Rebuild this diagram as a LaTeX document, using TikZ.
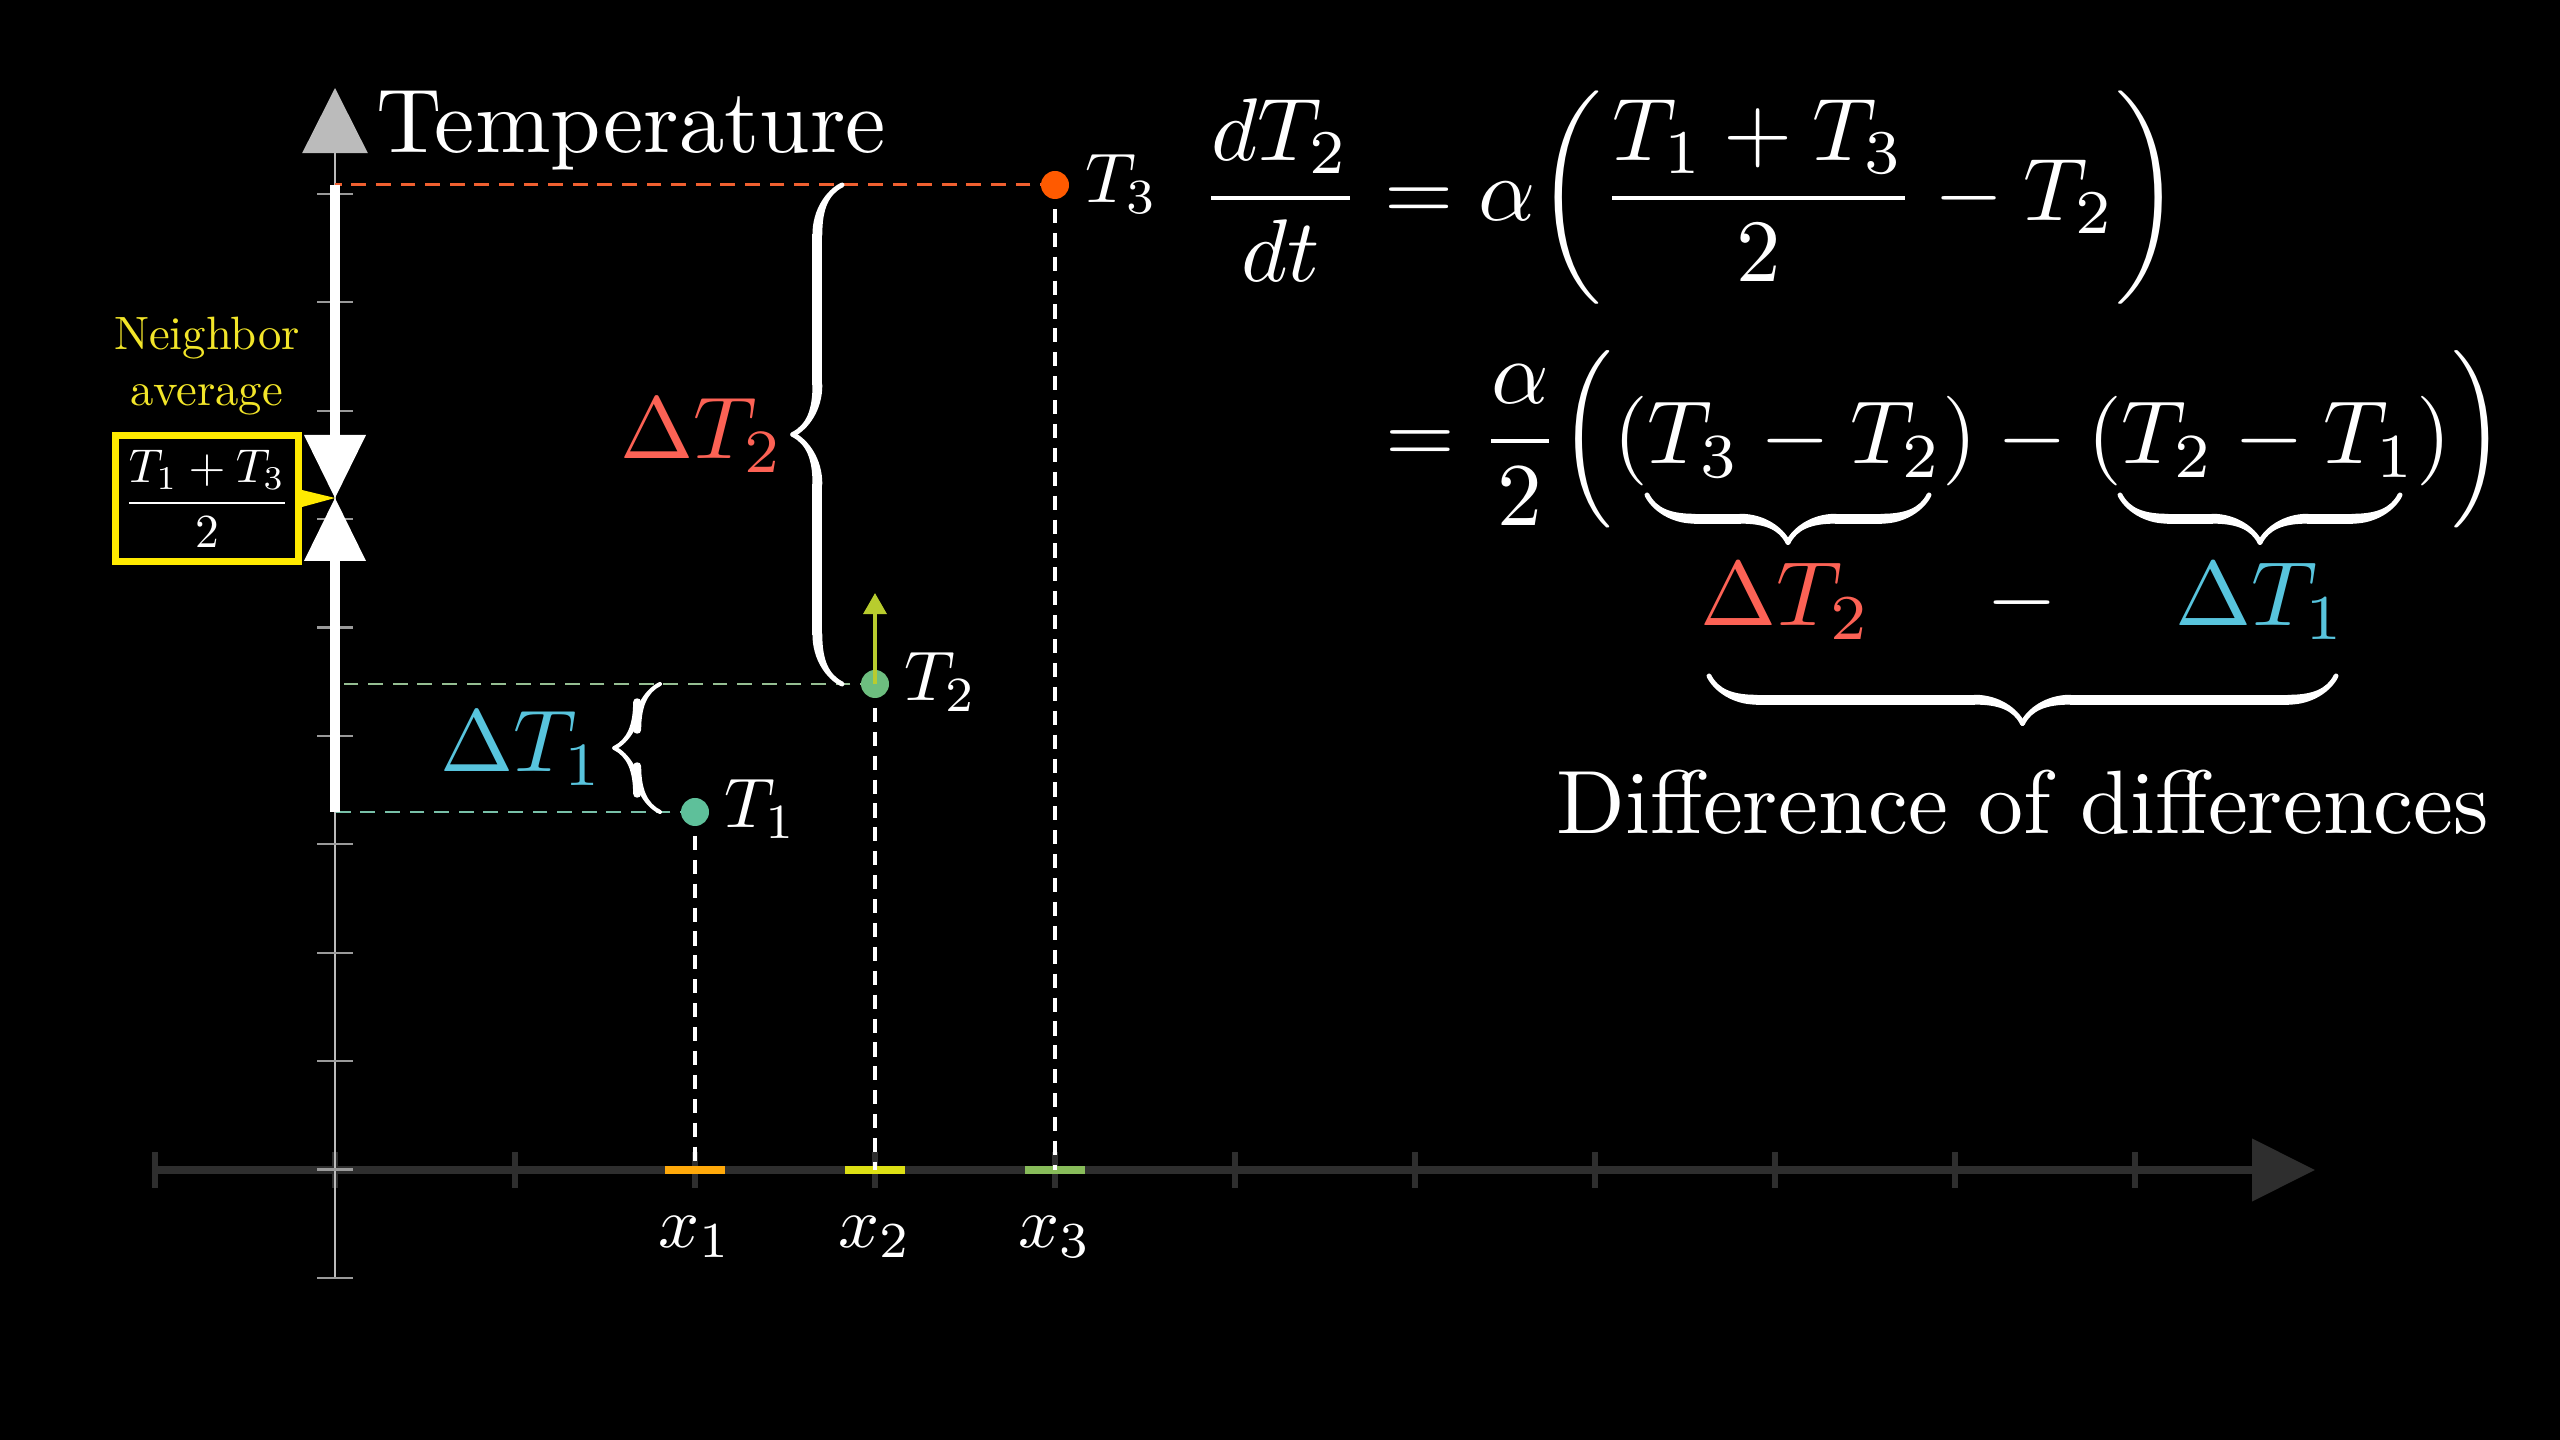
\documentclass[tikz,border=0pt]{standalone}
\usepackage{amsmath}
\usepackage{graphicx}
\usetikzlibrary{decorations.pathreplacing,arrows.meta,calligraphy}
\definecolor{axisgray}{HTML}{2E2E2E}
\definecolor{ygray}{HTML}{BBBBBB}
\definecolor{ytick}{HTML}{9A9A9A}
\definecolor{cthree}{HTML}{FF5A00}
\definecolor{cthreedash}{HTML}{F06030}
\definecolor{ctwo}{HTML}{6DBE7F}
\definecolor{ctwodash}{HTML}{95BE92}
\definecolor{cone}{HTML}{5EC09A}
\definecolor{conedash}{HTML}{78C0A8}
\definecolor{arrowc}{HTML}{B8CC2E}
\definecolor{dred}{HTML}{FC6255}
\definecolor{dblue}{HTML}{58C4DD}
\definecolor{ybox}{HTML}{FFEA00}
\definecolor{ytext}{HTML}{F2E529}
\definecolor{segone}{HTML}{FFA90A}
\definecolor{segtwo}{HTML}{DDE014}
\definecolor{segthree}{HTML}{88BC5A}
\newcommand{\tallopen}{\mathopen{\scalebox{1}[1.1]{$\Big($}}}
\newcommand{\tallclose}{\mathclose{\scalebox{1}[1.1]{$\Big)$}}}
\tikzset{
  xaxisline/.style={draw=axisgray, line width=2pt},
  xtickline/.style={draw=axisgray, line width=1.6pt},
  yaxisline/.style={draw=ygray, line width=0.7pt},
  ytickline/.style={draw=ytick, line width=0.6pt},
  seg/.style={line width=2pt},
  vdash/.style={draw=white, line width=0.95pt, dash pattern=on 4pt off 2.8pt},
  hdash/.style={line width=0.85pt, dash pattern=on 4.2pt off 2.8pt},
  tdot/.style={circle, minimum size=2.8mm, inner sep=0pt},
  wlab/.style={text=white, inner sep=0pt},
  bracestyle/.style={line width=2.8pt, pen colour={white}, decorate},
}
\begin{document}
\begin{tikzpicture}[x=0.1mm,y=-0.1mm]
\useasboundingbox (0,0) rectangle (2560,1440);
\fill[black] (0,0) rectangle (2560,1440);

% ---------- x axis
\coordinate (O) at (335,1170);
\coordinate (xl) at (155,1170);
\coordinate (xr) at (2315,1170);
\draw[xaxisline, -{Triangle[length=17.9pt,width=17.4pt]}] (xl) -- (xr);
\foreach \k in {-1,...,10} {
  \draw[xtickline] (335+180*\k,1152) -- (335+180*\k,1188);
}

% ---------- y axis
\coordinate (yb) at (335,1278);
\coordinate (yt) at (335,88);
\draw[yaxisline, -{Triangle[length=18.5pt,width=18.5pt]}, color=ygray] (yb) -- (yt);
\foreach \k in {-1,...,9} {
  \draw[ytickline] (317,1169.5-108.4*\k) -- (353,1169.5-108.4*\k);
}

% ---------- colored segments on the x axis
\draw[seg, segone] (665,1170) -- (725,1170);
\draw[seg, segtwo] (845,1170) -- (905,1170);
\draw[seg, segthree] (1025,1170) -- (1085,1170);

% ---------- points
\coordinate (p1) at (695,812);
\coordinate (p2) at (875,684);
\coordinate (p3) at (1055,185);

% dashed guides
\draw[hdash, cthreedash] (p3) -- (p3 -| O);
\draw[hdash, ctwodash] (p2) -- (p2 -| O);
\draw[hdash, conedash] (p1) -- (p1 -| O);
\draw[vdash] (p3) -- (p3 |- O);
\draw[vdash] (p2) -- (p2 |- O);
\draw[vdash] (p1) -- (p1 |- O);

% white bar and bow tie
\draw[white, line width=2.85pt] (p3 -| O) -- (335,436);
\draw[white, line width=2.85pt] (335,561) -- (p1 -| O);
\coordinate (avgpt) at (335,498);
\fill[white] (304,435) -- (366,435) -- (avgpt) -- cycle;
\fill[white] (304,561) -- (366,561) -- (avgpt) -- cycle;

% dots
\node[tdot, fill=cthree] (T3) at (p3) {};
\node[tdot, fill=ctwo] (T2) at (p2) {};
\node[tdot, fill=cone] (T1) at (p1) {};
\draw[arrowc, line width=1.15pt, -{Triangle[length=6pt,width=6.5pt]}] (p2) -- (875,593);

% point labels
\node[wlab, scale=2, anchor=base west] (lT3) at (1084,203) {$T_3$};
\node[wlab, scale=2, anchor=base west] (lT2) at (903,701) {$T_2$};
\node[wlab, scale=2, anchor=base west] (lT1) at (723,828) {$T_1$};

% x labels
\node[wlab, scale=2.05, anchor=base] (lx1) at (695,1247) {$x_1$};
\node[wlab, scale=2.05, anchor=base] (lx2) at (875,1247) {$x_2$};
\node[wlab, scale=2.05, anchor=base] (lx3) at (1055,1247) {$x_3$};

% axis title
\node[wlab, scale=2.58, anchor=base west] (title) at (375,153) {Temperature};

% braces on the plot
\draw[bracestyle, decoration={calligraphic brace, amplitude=14pt}] (842,684) -- (842,185);
\draw[bracestyle, line width=2.3pt, decoration={calligraphic brace, amplitude=13pt}] (660,812) -- (660,684);
\node[inner sep=0pt, scale=2.5, text=dred, anchor=base east] (dT2) at (786,459) {$\Delta T_2$};
\node[inner sep=0pt, scale=2.5, text=dblue, anchor=base east] (dT1) at (606,772) {$\Delta T_1$};

% neighbor average
\node[draw=ybox, line width=2pt, minimum width=18.3mm, minimum height=12.6mm, inner sep=0pt] (avgbox) at (207,498.5) {};
\node[wlab, scale=1.35] (avgfrac) at (avgbox.center) {$\displaystyle\frac{T_1+T_3}{2}$};
\fill[ybox] ([yshift=0.85mm]avgbox.east) -- (avgpt) -- ([yshift=-0.85mm]avgbox.east) -- cycle;
\node[inner sep=0pt, text=ytext, scale=1.33, align=center] (avglab) at (207,366) {Neighbor\\average};

% ---------- equations
\node[wlab, scale=2.53, anchor=west] (eqA) at (1199,198)
  {$\displaystyle \frac{dT_2}{dt} = \alpha{\left(\frac{T_1+T_3}{2} - T_2\right)}$};
\node[wlab, scale=2.55, anchor=west] (eqB) at (1384,439)
  {$\displaystyle = {\frac{\alpha}{2}}\tallopen(T_3 - T_2) - (T_2 - T_1)\tallclose$};

\draw[bracestyle, decoration={calligraphic brace, amplitude=13.5pt}] (1929,495) -- (1647,495);
\draw[bracestyle, decoration={calligraphic brace, amplitude=13.5pt}] (2400,495) -- (2120,495);

\node[inner sep=0pt, scale=2.6, text=dred, anchor=base] (bT2) at (1786,626) {$\Delta T_2$};
\node[wlab, scale=2.6, anchor=base] (bminus) at (2022,626) {$-$};
\node[inner sep=0pt, scale=2.6, text=dblue, anchor=base] (bT1) at (2261,626) {$\Delta T_1$};

\draw[bracestyle, decoration={calligraphic brace, amplitude=13.5pt}] (2336,676) -- (1709,676);
\node[wlab, scale=2.56, anchor=base west] (dod) at (1555,834) {Difference of differences};
\end{tikzpicture}
\end{document}
